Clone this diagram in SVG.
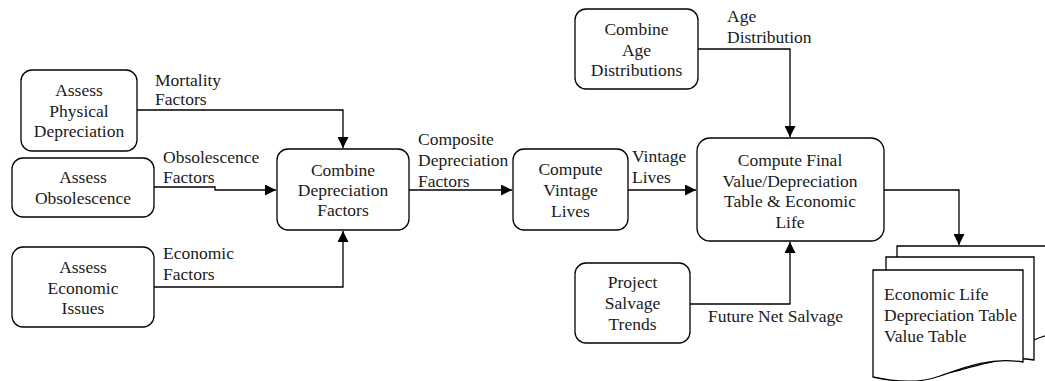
<svg xmlns="http://www.w3.org/2000/svg" width="1045" height="381" viewBox="0 0 1045 381" font-family="'Liberation Serif', 'DejaVu Serif', serif" font-size="17.5">
<style>
.box{fill:#fff;stroke:#000;stroke-width:1.3}
.sheet{fill:#fff;stroke:#000;stroke-width:1.3}
.edge{fill:none;stroke:#000;stroke-width:1.3}
text{font-family:'Liberation Serif','DejaVu Serif',serif;font-size:17.5px;fill:#1a1a1a}
.c{text-anchor:middle}
</style>
<defs>
<marker id="arr" markerUnits="userSpaceOnUse" markerWidth="11" markerHeight="11" refX="10" refY="5" orient="auto" viewBox="0 0 10 10">
<path d="M0,0 L10,5 L0,10 z" fill="#000"/>
</marker>
</defs>
<g id="connectors">
<path class="edge" d="M137,110 H343 V148" marker-end="url(#arr)"/>
<path class="edge" d="M154,187 H215 V190 H276" marker-end="url(#arr)"/>
<path class="edge" d="M154,287 H343 V231" marker-end="url(#arr)"/>
<path class="edge" d="M409,190 H512" marker-end="url(#arr)"/>
<path class="edge" d="M628,190 H696" marker-end="url(#arr)"/>
<path class="edge" d="M698,49 H790 V137" marker-end="url(#arr)"/>
<path class="edge" d="M690,304 H790 V242" marker-end="url(#arr)"/>
<path class="edge" d="M884,190 H959 V245" marker-end="url(#arr)"/>
<text x="155" y="86">Mortality</text>
<text x="155" y="105">Factors</text>
<text x="163" y="163">Obsolescence</text>
<text x="163" y="183">Factors</text>
<text x="163" y="259">Economic</text>
<text x="163" y="280">Factors</text>
<text x="418" y="145">Composite</text>
<text x="418" y="166">Depreciation</text>
<text x="418" y="187">Factors</text>
<text x="632" y="162">Vintage</text>
<text x="632" y="183">Lives</text>
<text x="727" y="22">Age</text>
<text x="727" y="43">Distribution</text>
<text x="708" y="322">Future Net Salvage</text>
</g>
<g id="assess-physical">
<rect class="box" x="21" y="70" width="116" height="81" rx="11"/>
<text class="c" x="79" y="96">Assess</text>
<text class="c" x="79" y="117">Physical</text>
<text class="c" x="79" y="137">Depreciation</text>
</g>
<g id="assess-obsolescence">
<rect class="box" x="12" y="158" width="142" height="59" rx="11"/>
<text class="c" x="83" y="183">Assess</text>
<text class="c" x="83" y="204">Obsolescence</text>
</g>
<g id="assess-economic">
<rect class="box" x="12" y="247" width="142" height="80" rx="11"/>
<text class="c" x="83" y="273">Assess</text>
<text class="c" x="83" y="294">Economic</text>
<text class="c" x="83" y="314">Issues</text>
</g>
<g id="combine-depreciation">
<rect class="box" x="277" y="149" width="132" height="81" rx="11"/>
<text class="c" x="343" y="176">Combine</text>
<text class="c" x="343" y="196">Depreciation</text>
<text class="c" x="343" y="216">Factors</text>
</g>
<g id="compute-vintage">
<rect class="box" x="513" y="149" width="115" height="81" rx="11"/>
<text class="c" x="570.5" y="175">Compute</text>
<text class="c" x="570.5" y="196">Vintage</text>
<text class="c" x="570.5" y="217">Lives</text>
</g>
<g id="combine-age">
<rect class="box" x="575" y="9" width="123" height="80" rx="11"/>
<text class="c" x="636.5" y="35">Combine</text>
<text class="c" x="636.5" y="56">Age</text>
<text class="c" x="636.5" y="76">Distributions</text>
</g>
<g id="compute-final">
<rect class="box" x="697" y="138" width="187" height="103" rx="13"/>
<text class="c" x="790" y="166">Compute Final</text>
<text class="c" x="790" y="187">Value/Depreciation</text>
<text class="c" x="790" y="207">Table &amp; Economic</text>
<text class="c" x="790" y="228">Life</text>
</g>
<g id="project-salvage">
<rect class="box" x="575" y="263" width="115" height="80" rx="11"/>
<text class="c" x="632.5" y="288">Project</text>
<text class="c" x="632.5" y="309">Salvage</text>
<text class="c" x="632.5" y="330">Trends</text>
</g>
<g id="output-documents">
<path class="sheet" d="M897,246 H1070 V332 C1055,332 1045,335 1034,340 C1000,356 960,362 897,352 Z"/>
<path class="sheet" d="M886,257 H1034 V360 C1010,356 990,362 960,370 C930,378 905,372 886,368 Z"/>
<path class="sheet" d="M873,270 H1023 V362 C990,357 965,367 940,376 C918,384 895,382 873,377 Z"/>
<text x="884" y="300">Economic Life</text>
<text x="884" y="321">Depreciation Table</text>
<text x="884" y="342">Value Table</text>
</g>
</svg>
